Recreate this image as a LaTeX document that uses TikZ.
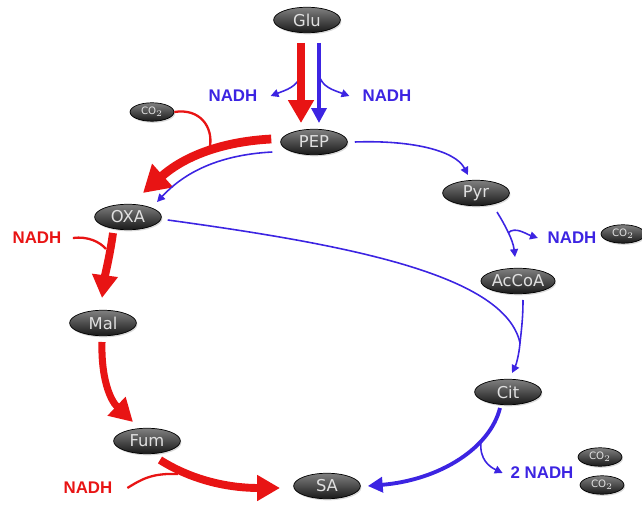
\documentclass[tikz,border=0pt]{standalone}
\usepackage{fontspec}
\setmainfont{Liberation Sans}
\newfontfamily\metfont{DejaVu Sans}
\usepackage{tikz}
\usetikzlibrary{calc, arrows.meta, shapes, shadows}
\definecolor{pathred}{RGB}{232,20,20}
\definecolor{pathblue}{RGB}{60,36,226}

\begin{document}
\begin{tikzpicture}[x=0.02cm, y=-0.02cm,
  met/.style={ellipse, draw=black, top color=black!50, bottom color=black!90, text=white!88!black, minimum width=38pt, minimum height=14.5pt, inner sep=0pt, font=\metfont\fontsize{9.3}{10}\selectfont, drop shadow={opacity=0.3, shadow xshift=0.6pt, shadow yshift=-0.9pt}},
  gas/.style={met, minimum width=25pt, minimum height=10.5pt, font=\metfont\fontsize{5.8}{6}\selectfont},
  redtext/.style={text=pathred, font=\bfseries\fontsize{9.6}{10}\selectfont},
  bluetext/.style={text=pathblue, font=\bfseries\fontsize{9.6}{10}\selectfont},
  redflux/.style={draw=pathred, line width=4.5pt, -{Triangle[width=14pt, length=13pt]}},
  blueflux/.style={draw=pathblue, line width=2.2pt, -{Triangle[width=8.5pt, length=8.5pt]}},
  bluethin/.style={draw=pathblue, line width=0.9pt, -{Triangle[width=4.5pt, length=4.5pt]}},
  redthin/.style={draw=pathred, line width=1.3pt}]
\useasboundingbox (0,0) rectangle (642,506);
% nodes %
\node[met] (glu) at (307,20) {Glu};
\node[met] (pep) at (314,142) {PEP};
\node[met] (oxa) at (128,217) {OXA};
\node[met] (pyr) at (476,193) {Pyr};
\node[met] (accoa) at (518,281) {AcCoA};
\node[met] (mal) at (103,323) {Mal};
\node[met] (fum) at (147,441) {Fum};
\node[met] (cit) at (508,392) {Cit};
\node[met] (sa) at (327,486) {SA};
\node[gas] (co2a) at (152,112) {CO$_2$};
\node[gas] (co2b) at (623,234) {CO$_2$};
\node[gas] (co2c) at (600,457) {CO$_2$};
\node[gas] (co2d) at (602,485) {CO$_2$};
\node[bluetext] (nadhl) at (233,96) {NADH};
\node[bluetext] (nadhr) at (387,96) {NADH};
\node[bluetext] (nadhp) at (572,238) {NADH};
\node[bluetext] (nadhc) at (542,473) {2 NADH};
\node[redtext] (nadho) at (37,238) {NADH};
\node[redtext] (nadhf) at (88,488) {NADH};
\coordinate (gsl) at (301,75);
\coordinate (gsr) at (319,75);
\coordinate (joinco) at (210,146);
\coordinate (splitp) at (508,233);
\coordinate (merge) at (520,343);
\coordinate (joinoxa) at (106,249);
\coordinate (joinfum) at (178,474);
\coordinate (splitc) at (481,441);
% edges %
\draw[bluethin] (gsl) .. controls (297,87) and (286,90) .. ([xshift=4pt]nadhl.east);
\draw[bluethin] (gsr) .. controls (322,87) and (333,90) .. ([xshift=-4pt]nadhr.west);
\draw[redflux] ([shift={(-6,23)}]glu.center) -- ([shift={(-13,-19)}]pep.center);
\draw[blueflux, line width=2pt] ([shift={(12,23)}]glu.center) -- ([shift={(5,-19)}]pep.center);
\draw[redthin] (co2a.east) .. controls (200,108) and (213,127) .. (joinco);
\draw[redflux, line width=5pt, -{Triangle[width=17pt, length=15pt]}] ([shift={(-9,-3)}]pep.west) .. controls (215,142) and (180,160) .. ([shift={(15,-24)}]oxa.center);
\draw[bluethin] ([shift={(-8,10)}]pep.west) .. controls (215,155) and (182,175) .. ([shift={(29,-15)}]oxa.center);
\draw[bluethin] ([xshift=4pt]pep.east) .. controls (410,140) and (455,150) .. ([shift={(-8,-18)}]pyr.center);
\draw[bluethin] (splitp) .. controls (515,226) and (526,234) .. ([xshift=-2pt]nadhp.west);
\draw[bluethin] ([shift={(21,19)}]pyr.center) .. controls (505,225) and (513,240) .. ([shift={(-3,-24)}]accoa.center);
\draw[bluethin, -] ([shift={(6,3)}]oxa.east) .. controls (350,245) and (505,275) .. (merge);
\draw[bluethin, -] ([shift={(5,19)}]accoa.center) .. controls (523,320) and (521,333) .. (merge);
\draw[bluethin] (merge) .. controls (519,355) and (516,365) .. ([shift={(4,-19)}]cit.center);
\draw[redthin] ([xshift=3pt]nadho.east) .. controls (88,236) and (100,242) .. (joinoxa);
\draw[redflux] ([shift={(-15,16)}]oxa.center) .. controls (110,255) and (105,275) .. ([shift={(-1,-25)}]mal.center);
\draw[redflux, line width=4pt] ([shift={(-1,19)}]mal.center) .. controls (101,378) and (110,400) .. ([shift={(-14,-19)}]fum.center);
\draw[redthin] ([xshift=5pt]nadhf.east) .. controls (142,479) and (152,473) .. (joinfum);
\draw[redflux] ([shift={(13,19)}]fum.center) .. controls (195,482) and (232,488) .. ([shift={(-47,2)}]sa.center);
\draw[bluethin] (splitc) .. controls (479,460) and (490,467) .. ([xshift=-1pt]nadhc.west);
\draw[blueflux] ([shift={(-8,16)}]cit.center) .. controls (490,448) and (440,480) .. ([xshift=4pt]sa.east);
\end{tikzpicture}
\end{document}
